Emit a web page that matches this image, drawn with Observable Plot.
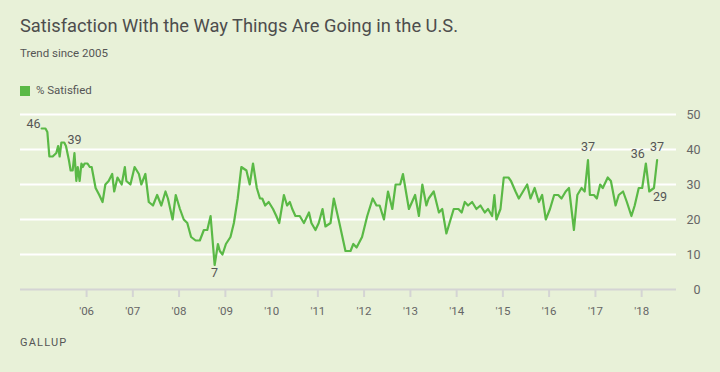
<!DOCTYPE html>
<html>
<head>
<meta charset="utf-8">
<script src="https://cdn.jsdelivr.net/npm/d3@7"></script>
<script src="https://cdn.jsdelivr.net/npm/@observablehq/plot@0.6"></script>
<style>
  html, body { margin: 0; padding: 0; }
  body { width: 720px; height: 372px; background: #e8f1d8; position: relative; overflow: hidden; font-family: Roboto, "Liberation Sans", sans-serif; color: #555; }
  #title { position: absolute; left: 20px; top: 17px; font-size: 18.3px; line-height: 1; color: #4d4d4d; white-space: nowrap; }
  #subtitle { position: absolute; left: 20px; top: 48px; font-size: 11.5px; line-height: 1; color: #555; }
  #legend { position: absolute; left: 20px; top: 85px; font-size: 11.5px; line-height: 1; color: #555; display: flex; align-items: center; }
  #legend .sw { width: 10px; height: 10px; background: #5ab946; margin-right: 6px; }
  #chart { position: absolute; left: 0; top: 100px; }
  #footer { position: absolute; left: 20px; top: 337px; font-size: 11px; line-height: 1; letter-spacing: 1.2px; color: #555; }
</style>
</head>
<body>
<div id="title">Satisfaction With the Way Things Are Going in the U.S.</div>
<div id="subtitle">Trend since 2005</div>
<div id="legend"><div class="sw"></div><span>% Satisfied</span></div>
<div id="chart"></div>
<div id="footer">GALLUP</div>
<script>
// ---- data ----
const seriesName = "% Satisfied";
const dates = [
  "2005-01-11","2005-02-10","2005-02-25","2005-03-13","2005-04-08","2005-05-07","2005-05-21","2005-06-02","2005-06-16","2005-07-08",
  "2005-07-22","2005-08-14","2005-08-28","2005-09-13","2005-09-27","2005-10-12","2005-10-23","2005-11-07","2005-11-21","2005-12-02",
  "2005-12-16","2006-01-08","2006-01-26","2006-02-10","2006-03-13","2006-04-11","2006-05-07","2006-05-29","2006-06-24","2006-07-22",
  "2006-08-07","2006-09-02","2006-10-05","2006-10-30","2006-11-11","2006-12-13","2007-01-15","2007-02-18","2007-03-09","2007-04-10",
  "2007-05-07","2007-06-09","2007-07-12","2007-08-14","2007-09-16","2007-10-05","2007-11-11","2007-12-06","2008-01-08","2008-02-07",
  "2008-03-06","2008-04-05","2008-05-11","2008-06-13","2008-07-15","2008-08-11","2008-09-06","2008-10-08","2008-11-03","2008-11-18",
  "2008-12-09","2009-01-05","2009-02-10","2009-03-09","2009-04-08","2009-05-07","2009-06-16","2009-07-12","2009-08-07","2009-09-06",
  "2009-10-01","2009-10-19","2009-11-11","2009-12-09","2010-01-12","2010-02-07","2010-03-02","2010-04-08","2010-05-03","2010-05-25",
  "2010-06-13","2010-07-08","2010-08-11","2010-09-13","2010-10-23","2010-11-11","2010-12-13","2011-01-08","2011-02-07","2011-03-02",
  "2011-04-11","2011-05-07","2011-06-20","2011-08-07","2011-09-16","2011-10-08","2011-11-03","2011-12-16","2012-01-26","2012-03-09",
  "2012-04-08","2012-05-03","2012-06-06","2012-07-08","2012-08-11","2012-09-06","2012-10-12","2012-11-03","2012-12-20","2013-02-07",
  "2013-03-09","2013-04-05","2013-05-07","2013-05-25","2013-07-04","2013-08-14","2013-09-09","2013-10-12","2013-11-14","2013-12-09",
  "2014-01-15","2014-02-10","2014-03-06","2014-04-01","2014-05-03","2014-06-06","2014-07-08","2014-08-11","2014-09-06","2014-10-08",
  "2014-10-26","2014-11-11","2014-12-13","2015-01-08","2015-02-14","2015-03-06","2015-04-11","2015-05-07","2015-06-09","2015-07-12",
  "2015-08-07","2015-09-09","2015-10-12","2015-11-07","2015-12-06","2016-01-08","2016-02-10","2016-03-13","2016-04-08","2016-05-11",
  "2016-06-06","2016-07-15","2016-08-11","2016-09-13","2016-10-08","2016-11-03","2016-11-18","2016-12-20","2017-01-12","2017-02-07",
  "2017-02-28","2017-04-08","2017-05-03","2017-06-09","2017-07-04","2017-08-07","2017-09-06","2017-10-12","2017-11-07","2017-12-09",
  "2018-01-05","2018-02-03","2018-03-02","2018-04-08","2018-05-03"
];
const satisfied = [
  46,46,45,38,38,39,41,38,42,42,
  41,37,34,34,39,31,35,31,36,35,
  36,36,35,35,29,27,25,30,31,33,
  28,32,30,35,31,30,35,33,30,33,
  25,24,27,24,28,26,20,27,23,20,
  19,15,14,14,17,17,21,7,13,11,
  10,13,15,19,26,35,34,30,36,29,
  26,26,24,25,23,21,19,27,24,25,
  23,21,21,19,22,19,17,19,23,18,
  19,26,19,11,11,13,12,15,21,26,
  24,24,20,28,23,30,30,33,23,27,
  21,30,24,26,28,22,23,16,20,23,
  23,22,25,24,25,23,24,22,23,21,
  27,20,23,32,32,31,28,26,28,30,
  26,29,25,27,20,23,27,27,26,28,
  29,17,27,29,28,37,27,27,26,30,
  29,32,31,24,27,28,25,21,24,29,
  29,36,28,29,37
];
const labelDates  = ["2005-01-11","2005-09-27","2008-10-08","2016-11-03","2018-02-03","2018-04-08","2018-05-03"];
const labelValues = [46, 39, 7, 37, 36, 29, 37];
const yTicks = [0, 10, 20, 30, 40, 50];
const xTickYears = [2006,2007,2008,2009,2010,2011,2012,2013,2014,2015,2016,2017,2018];
const xDomain = ["2004-07-28", "2018-10-03"];

// ---- build tables ----
const parse = d3.utcParse("%Y-%m-%d");
const data = dates.map((d, i) => ({date: parse(d), value: satisfied[i], series: seriesName}));
const labels = labelDates.map((d, i) => ({date: parse(d), value: labelValues[i], idx: i}));
const xTicks = xTickYears.map(y => new Date(Date.UTC(y, 0, 1)));

const green = "#5ab946";
const textColor = "#555";
const above = labels.filter(d => [1, 3, 6].includes(d.idx));
const leftAbove = labels.filter(d => d.idx === 0);
const leftAbove2 = labels.filter(d => d.idx === 4);
const below = labels.filter(d => d.idx === 2);
const belowRight = labels.filter(d => d.idx === 5);

const chart = Plot.plot({
  width: 720,
  height: 230,
  marginLeft: 20,
  marginRight: 44,
  marginTop: 14,
  marginBottom: 41,
  style: {background: "transparent", fontFamily: "Roboto, 'Liberation Sans', sans-serif", color: textColor, overflow: "visible"},
  x: {type: "utc", domain: xDomain.map(parse)},
  y: {domain: [0, 50]},
  marks: [
    Plot.ruleY(yTicks.filter(v => v > 0), {stroke: "#ffffff", strokeWidth: 2}),
    Plot.ruleY([0], {stroke: "#d4d4d4", strokeWidth: 2}),
    Plot.axisX({ticks: xTicks, tickSize: 8, tickPadding: 9, stroke: "#d4d4d4", strokeWidth: 2, strokeOpacity: 1,
      tickFormat: d => "'" + d3.utcFormat("%y")(d), fontSize: 11.5, fill: "#666", label: null}),
    Plot.axisY({anchor: "right", ticks: yTicks, tickSize: 0, tickPadding: 24, textAnchor: "end", fontSize: 12.5, fill: "#666", label: null}),
    Plot.line(data, {x: "date", y: "value", stroke: green, strokeWidth: 2.2, strokeLinejoin: "round"}),
    Plot.text(above, {x: "date", y: "value", text: d => String(d.value), dy: -13, fontSize: 12.5, fill: textColor}),
    Plot.text(leftAbove, {x: "date", y: "value", text: d => String(d.value), dy: -5, dx: -1, textAnchor: "end", fontSize: 12.5, fill: textColor}),
    Plot.text(leftAbove2, {x: "date", y: "value", text: d => String(d.value), dy: -10, dx: -8, fontSize: 12.5, fill: textColor}),
    Plot.text(below, {x: "date", y: "value", text: d => String(d.value), dy: 8, fontSize: 12.5, fill: textColor}),
    Plot.text(belowRight, {x: "date", y: "value", text: d => String(d.value), dy: 9, dx: 6, fontSize: 12.5, fill: textColor})
  ]
});
document.getElementById("chart").appendChild(chart);
</script>
</body>
</html>
